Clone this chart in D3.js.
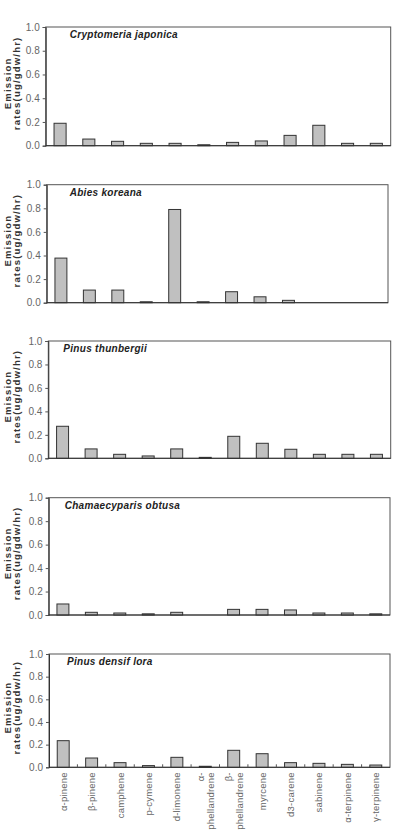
<!DOCTYPE html>
<html>
<head>
<meta charset="utf-8">
<script src="https://cdn.jsdelivr.net/npm/d3@7"></script>
<style>
  body { margin: 0; background: #fff; }
  svg { display: block; font-family: "Liberation Sans", Arial, sans-serif; }
</style>
</head>
<body>
<svg id="chart" width="396" height="833"></svg>
<script>
var categories = ["α-pinene", "β-pinene", "camphene", "p-cymene", "d-limonene",
  "α-\nphellandrene", "β-\nphellandrene", "myrcene", "d3-carene", "sabinene",
  "α-terpinene", "γ-terpinene"];
var species = ["Cryptomeria japonica", "Abies koreana", "Pinus thunbergii",
  "Chamaecyparis obtusa", "Pinus densif lora"];
var cryptomeria = [0.189, 0.056, 0.037, 0.02, 0.02, 0.008, 0.028, 0.04, 0.087, 0.172, 0.02, 0.02];
var abies = [0.378, 0.107, 0.107, 0.008, 0.79, 0.008, 0.093, 0.05, 0.02, 0, 0, 0];
var thunbergii = [0.273, 0.08, 0.034, 0.02, 0.08, 0.008, 0.1875, 0.128, 0.077, 0.034, 0.034, 0.034];
var chamaecyparis = [0.094, 0.023, 0.017, 0.01, 0.023, 0, 0.048, 0.048, 0.043, 0.017, 0.017, 0.01];
var densiflora = [0.235, 0.082, 0.041, 0.015, 0.088, 0.009, 0.15, 0.12, 0.041, 0.035, 0.026, 0.02];
var yTicks = [0, 0.2, 0.4, 0.6, 0.8, 1.0];

var seriesList = [cryptomeria, abies, thunbergii, chamaecyparis, densiflora];

// panel boxes: top, bottom, left, right, title x offset
var boxes = [
  [27, 145.7, 45.7, 390.7, 24],
  [184.7, 302.7, 46.7, 388, 23],
  [341, 458.3, 48.3, 390.7, 15],
  [497.7, 615, 48.7, 390, 16],
  [654, 767.3, 49, 390, 18]
];

var svg = d3.select("#chart");

seriesList.forEach(function(vals, p) {
  var b = boxes[p];
  var g = svg.append("g");

  var x = d3.scaleBand().domain(categories).range([b[2], b[3]]).paddingInner(0.58).paddingOuter(0.29);
  var band = d3.scaleBand().domain(categories).range([b[2], b[3]]);
  var y = d3.scaleLinear().domain([0, 1]).range([b[1], b[0]]);

  // frame
  g.append("rect")
    .attr("x", b[2]).attr("y", b[0])
    .attr("width", b[3] - b[2]).attr("height", b[1] - b[0])
    .attr("fill", "none").attr("stroke", "#555").attr("stroke-width", 1);

  // y axis
  var ya = g.append("g")
    .attr("transform", "translate(" + b[2] + ",0)")
    .call(d3.axisLeft(y).tickValues(yTicks).tickFormat(d3.format(".1f")).tickSize(3).tickPadding(3));
  ya.select(".domain").attr("stroke", "#333");
  ya.selectAll(".tick line").attr("stroke", "#555");
  ya.selectAll("text").attr("fill", "#666").attr("font-size", 10);

  // bars
  g.selectAll("rect.bar").data(vals).enter().append("rect")
    .attr("class", "bar")
    .attr("x", function(d, i) { return x(categories[i]); })
    .attr("width", x.bandwidth())
    .attr("y", function(d) { return y(d); })
    .attr("height", function(d) { return y(0) - y(d); })
    .attr("fill", "#c0c0c0")
    .attr("stroke", function(d) { return d > 0 ? "#333" : "none"; })
    .attr("stroke-width", 1);

  // baseline
  g.append("line")
    .attr("x1", b[2]).attr("x2", b[3])
    .attr("y1", y(0)).attr("y2", y(0))
    .attr("stroke", "#333");

  // title
  g.append("text")
    .attr("x", b[2] + b[4]).attr("y", b[0] + 11)
    .attr("font-size", 10).attr("font-style", "italic").attr("font-weight", "bold")
    .attr("letter-spacing", 0.3)
    .attr("fill", "#222")
    .text(species[p]);

  // y label
  var cy = (b[0] + b[1]) / 2 - 3;
  var lab = g.append("text")
    .attr("transform", "translate(10.5," + cy + ") rotate(-90)")
    .attr("text-anchor", "middle")
    .attr("font-size", 9.5).attr("font-weight", "bold")
    .attr("letter-spacing", 1.2).attr("fill", "#333");
  lab.append("tspan").attr("x", 0).attr("dy", 0).text("Emission");
  lab.append("tspan").attr("x", 0).attr("dy", 9).text("rates(ug/gdw/hr)");

  // x axis ticks & labels on the last panel
  if (p === seriesList.length - 1) {
    var boundaries = categories.slice(1).map(function(c) { return band(c); });
    g.selectAll("line.xt").data(boundaries).enter().append("line")
      .attr("x1", function(d) { return d; }).attr("x2", function(d) { return d; })
      .attr("y1", y(0)).attr("y2", y(0) - 3)
      .attr("stroke", "#555");

    categories.forEach(function(c) {
      var lines = c.split("\n");
      var cx = x(c) + x.bandwidth() / 2;
      var t = g.append("text")
        .attr("transform", "translate(" + cx + "," + (y(0) + 5) + ") rotate(-90)")
        .attr("text-anchor", "end")
        .attr("font-size", 9.5).attr("letter-spacing", 0.2).attr("fill", "#666");
      lines.forEach(function(l, k) {
        t.append("tspan").attr("x", 0)
          .attr("dy", k === 0 ? (lines.length > 1 ? -1.5 : 3.5) : 10.5)
          .text(l);
      });
    });
  }
});
</script>
</body>
</html>
